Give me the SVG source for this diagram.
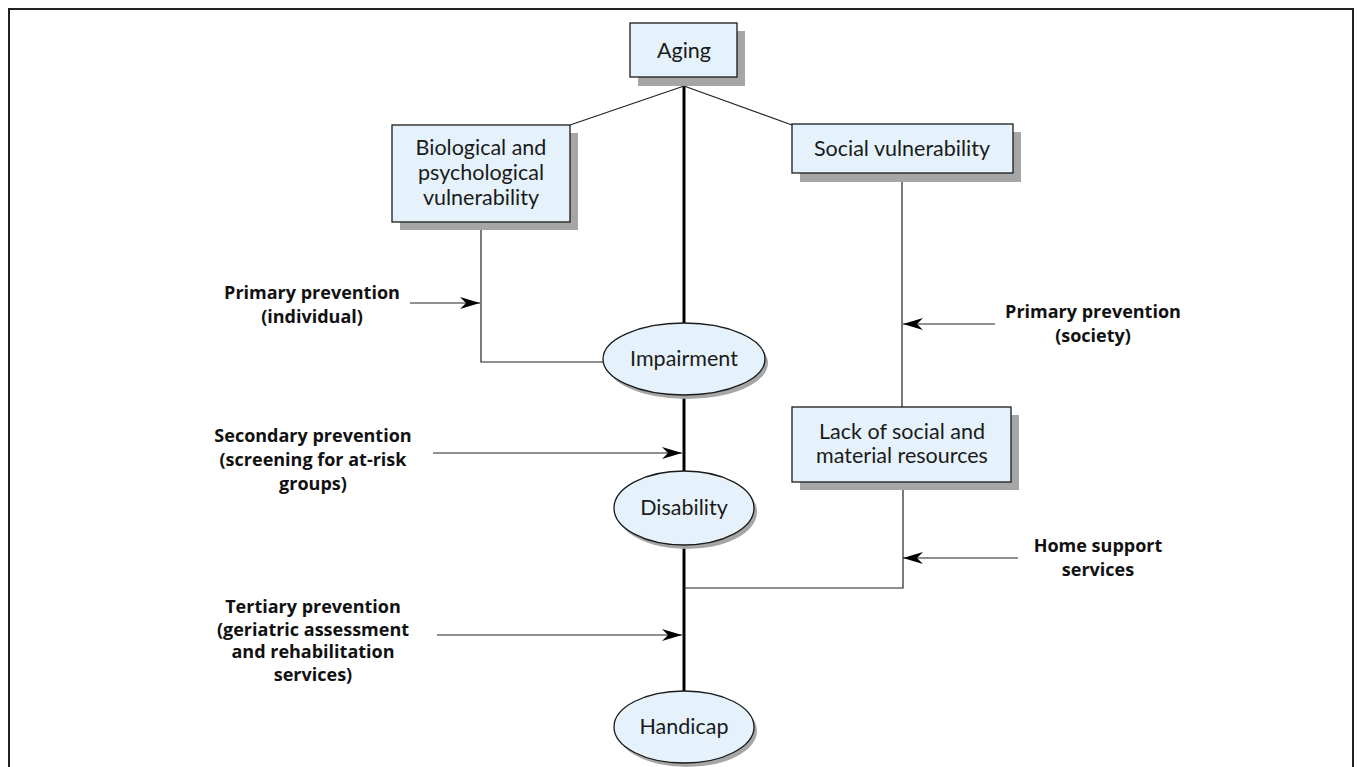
<svg xmlns="http://www.w3.org/2000/svg" width="1357" height="767" viewBox="0 0 1357 767">
<style>
.box{fill:#e5f2fb;stroke:#1a1a1a;stroke-width:1.3}
.sh{fill:#a6a6a6}
.nt{font-family:Lato,"Open Sans",sans-serif;font-size:21.5px;fill:#1a1a1a;text-anchor:middle}
.lb{font-family:"Open Sans",Lato,sans-serif;font-size:18px;font-weight:bold;fill:#111;text-anchor:middle}
.thin{stroke:#222;stroke-width:1.2;fill:none}
.thick{stroke:#000;stroke-width:3;fill:none}
</style>
<defs>
<marker id="ah" viewBox="0 0 20 12" refX="20" refY="6" markerWidth="20" markerHeight="12" markerUnits="userSpaceOnUse" orient="auto">
<path d="M0,0 L20,6 L0,12 L6,6 Z" fill="#000"/>
</marker>
</defs>
<rect x="0" y="0" width="1357" height="767" fill="#fff"/>
<path d="M9,780 V9 H1353 V780" fill="none" stroke="#222" stroke-width="2"/>
<g id="connectors">
<line class="thick" x1="684" y1="86" x2="684" y2="323"/>
<line class="thick" x1="684" y1="396" x2="684" y2="471"/>
<line class="thick" x1="684" y1="545" x2="684" y2="693"/>
<line class="thin" x1="684" y1="86" x2="570" y2="125"/>
<line class="thin" x1="684" y1="86" x2="792" y2="125"/>
<polyline class="thin" points="481,230 481,362 604,362"/>
<line class="thin" x1="902" y1="182" x2="902" y2="407"/>
<polyline class="thin" points="903,490 903,588 684,588"/>
<line class="thin" x1="410" y1="303" x2="480" y2="303" marker-end="url(#ah)"/>
<line class="thin" x1="995" y1="324" x2="903" y2="324" marker-end="url(#ah)"/>
<line class="thin" x1="433" y1="453" x2="682" y2="453" marker-end="url(#ah)"/>
<line class="thin" x1="1018" y1="558" x2="903" y2="558" marker-end="url(#ah)"/>
<line class="thin" x1="437" y1="635" x2="682" y2="635" marker-end="url(#ah)"/>
</g>
<g id="aging">
<rect class="sh" x="638" y="31" width="107" height="55"/>
<rect class="box" x="630" y="23" width="107" height="54"/>
<text class="nt" x="684" y="58">Aging</text>
</g>
<g id="bio">
<rect class="sh" x="400" y="133" width="178" height="97"/>
<rect class="box" x="392" y="125" width="178" height="97"/>
<text class="nt" x="481" y="155">Biological and</text>
<text class="nt" x="481" y="180">psychological</text>
<text class="nt" x="481" y="205">vulnerability</text>
</g>
<g id="social">
<rect class="sh" x="800" y="132" width="221" height="50"/>
<rect class="box" x="792" y="124" width="221" height="49"/>
<text class="nt" x="902" y="156">Social vulnerability</text>
</g>
<g id="lack">
<rect class="sh" x="800" y="415" width="219" height="75"/>
<rect class="box" x="792" y="407" width="219" height="75"/>
<text class="nt" x="902" y="439">Lack of social and</text>
<text class="nt" x="902" y="463">material resources</text>
</g>
<g id="impairment">
<ellipse class="sh" cx="687" cy="363" rx="81" ry="36"/>
<ellipse class="box" cx="684" cy="359" rx="81" ry="36"/>
<text class="nt" x="684" y="366">Impairment</text>
</g>
<g id="disability">
<ellipse class="sh" cx="687" cy="512" rx="70" ry="37"/>
<ellipse class="box" cx="684" cy="508" rx="70" ry="37"/>
<text class="nt" x="684" y="515">Disability</text>
</g>
<g id="handicap">
<ellipse class="sh" cx="687" cy="731" rx="70" ry="36"/>
<ellipse class="box" cx="684" cy="727" rx="70" ry="36"/>
<text class="nt" x="684" y="734">Handicap</text>
</g>
<g id="label-primary-individual">
<text class="lb" x="312" y="299">Primary prevention</text>
<text class="lb" x="312" y="323">(individual)</text>
</g>
<g id="label-primary-society">
<text class="lb" x="1093" y="318">Primary prevention</text>
<text class="lb" x="1093" y="342">(society)</text>
</g>
<g id="label-secondary">
<text class="lb" x="313" y="442">Secondary prevention</text>
<text class="lb" x="313" y="466">(screening for at-risk</text>
<text class="lb" x="313" y="490">groups)</text>
</g>
<g id="label-home">
<text class="lb" x="1098" y="552">Home support</text>
<text class="lb" x="1098" y="576">services</text>
</g>
<g id="label-tertiary">
<text class="lb" x="313" y="613">Tertiary prevention</text>
<text class="lb" x="313" y="636">(geriatric assessment</text>
<text class="lb" x="313" y="658">and rehabilitation</text>
<text class="lb" x="313" y="681">services)</text>
</g>
</svg>
